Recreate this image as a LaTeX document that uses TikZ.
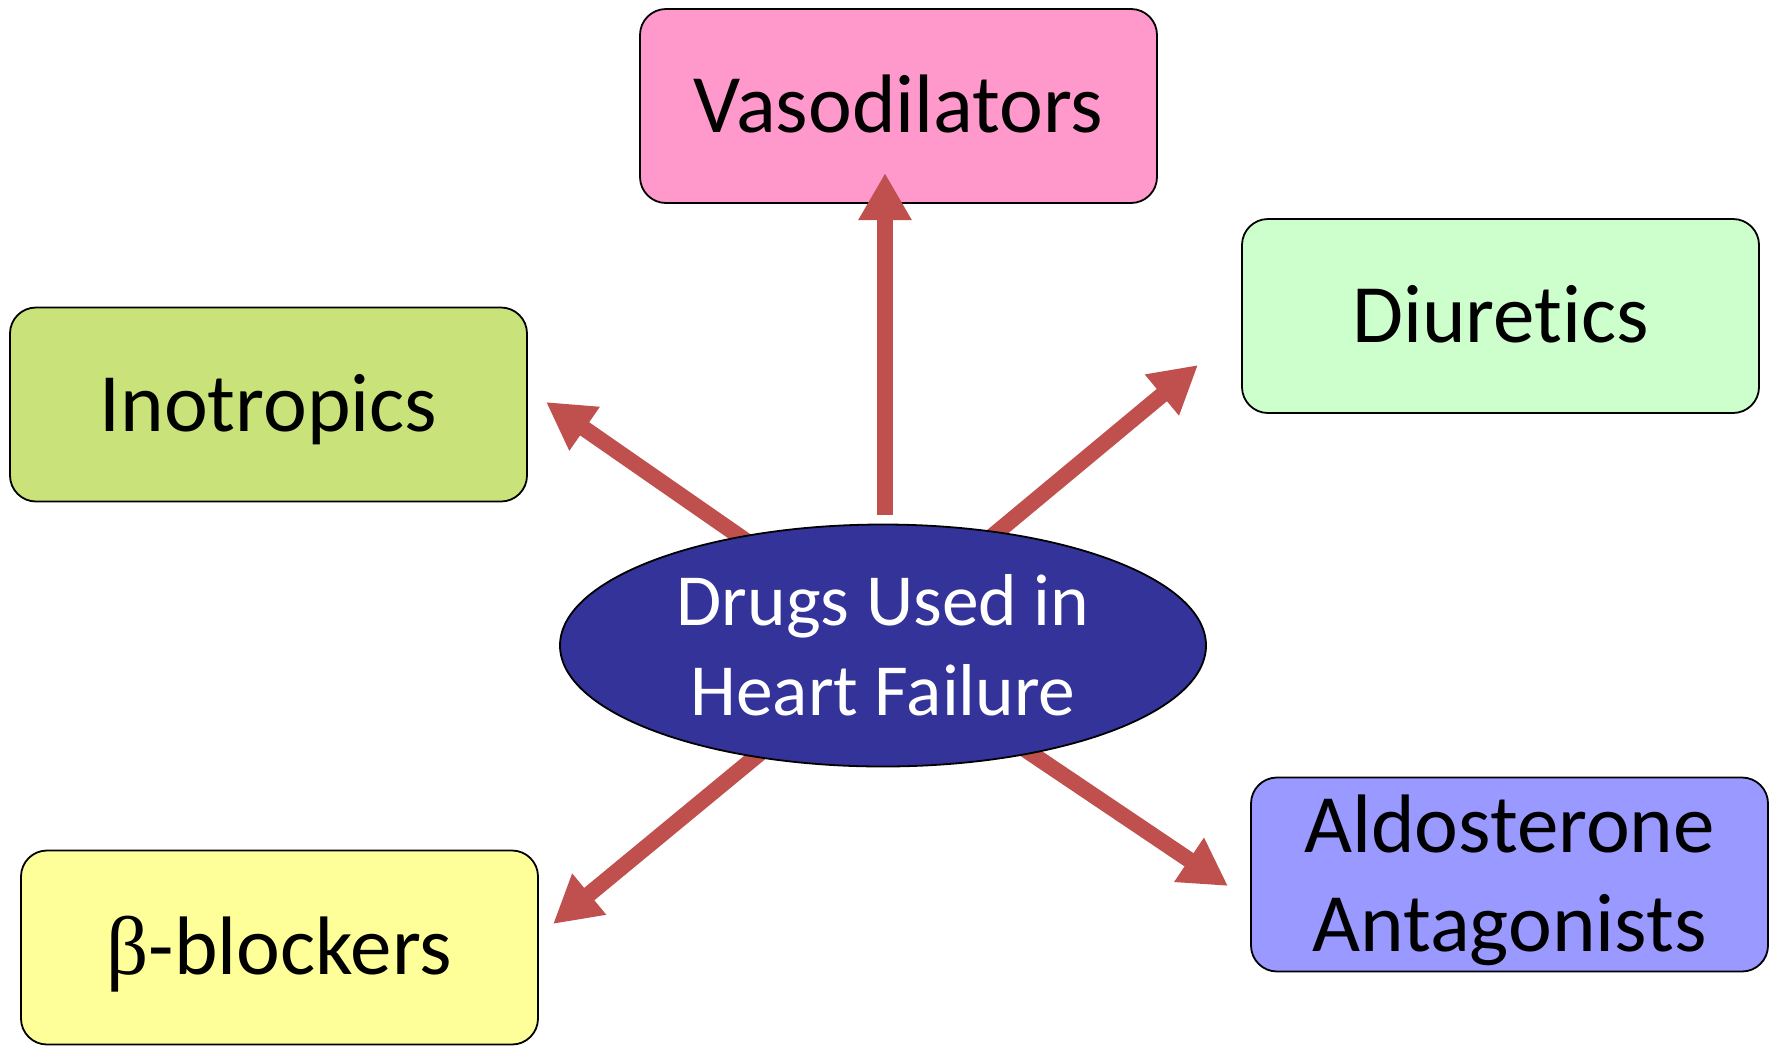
\documentclass[tikz,border=0pt]{standalone}
\usepackage{fontspec}
\setmainfont{Carlito}[Ligatures={NoCommon,NoRare,NoContextual}]
\newfontfamily\betafont{Liberation Serif}
\usetikzlibrary{arrows.meta,shapes.geometric}
\definecolor{vasopink}{HTML}{FF99CC}
\definecolor{diurgreen}{HTML}{CCFFCC}
\definecolor{inogreen}{HTML}{C9E279}
\definecolor{betayellow}{HTML}{FFFF99}
\definecolor{aldoblue}{HTML}{9999FF}
\definecolor{hubblue}{HTML}{333399}
\definecolor{arrowred}{HTML}{C0504D}
\pgfdeclarelayer{boxlayer}
\pgfdeclarelayer{arrowlayer}
\pgfsetlayers{boxlayer,arrowlayer,main}
\tikzset{
  drugbox/.style={draw=black, line width=1.8pt, rounded corners=26pt,
    minimum width=517pt, minimum height=194pt, inner sep=0pt,
    font=\fontsize{83}{99}\selectfont, align=center},
  oneline/.style={text height=53.5pt, text depth=0pt},
  hub/.style={ellipse, draw=black, line width=1.8pt, fill=hubblue,
    minimum width=646pt, minimum height=242pt, inner sep=0pt,
    text=white, font=\fontsize{73.5}{90}\selectfont, align=center},
  bigarrow/.style={draw=arrowred, line width=16pt,
    -{Triangle[width=50pt,length=47pt]}}
}
\begin{document}
\begin{tikzpicture}[x=1pt,y=-1pt]
\useasboundingbox (0,0) rectangle (1771,1045);
\begin{pgfonlayer}{boxlayer}
\node[drugbox, oneline, fill=vasopink] (vaso) at (898.5,106) {Vasodilators};
\node[drugbox, oneline, fill=diurgreen] (diur) at (1500.5,316) {Diuretics};
\node[drugbox, oneline, fill=inogreen] (ino) at (268.5,404.5) {Inotropics};
\node[drugbox, oneline, fill=betayellow] (beta) at (279.5,947.5) {{\betafont β}-blockers};
\node[drugbox, fill=aldoblue, text depth=3pt] (aldo) at (1509.5,874.5) {Aldosterone\\Antagonists};
\end{pgfonlayer}
\node[hub] (drugs) at (883,645.5) {Drugs Used in\\Heart Failure};
\coordinate (sUp) at (885,515);
\coordinate (tUp) at (885,173);
\coordinate (sUL) at (752,545);
\coordinate (tUL) at (546,402);
\coordinate (sUR) at (990,538);
\coordinate (tUR) at (1198,365);
\coordinate (sLL) at (765,749);
\coordinate (tLL) at (553,924);
\coordinate (sLR) at (1020,746);
\coordinate (tLR) at (1228,886);
\begin{pgfonlayer}{arrowlayer}
\draw[bigarrow] (sUp) -- (tUp);
\draw[bigarrow] (sUL) -- (tUL);
\draw[bigarrow] (sUR) -- (tUR);
\draw[bigarrow] (sLL) -- (tLL);
\draw[bigarrow] (sLR) -- (tLR);
\end{pgfonlayer}
\end{tikzpicture}
\end{document}
